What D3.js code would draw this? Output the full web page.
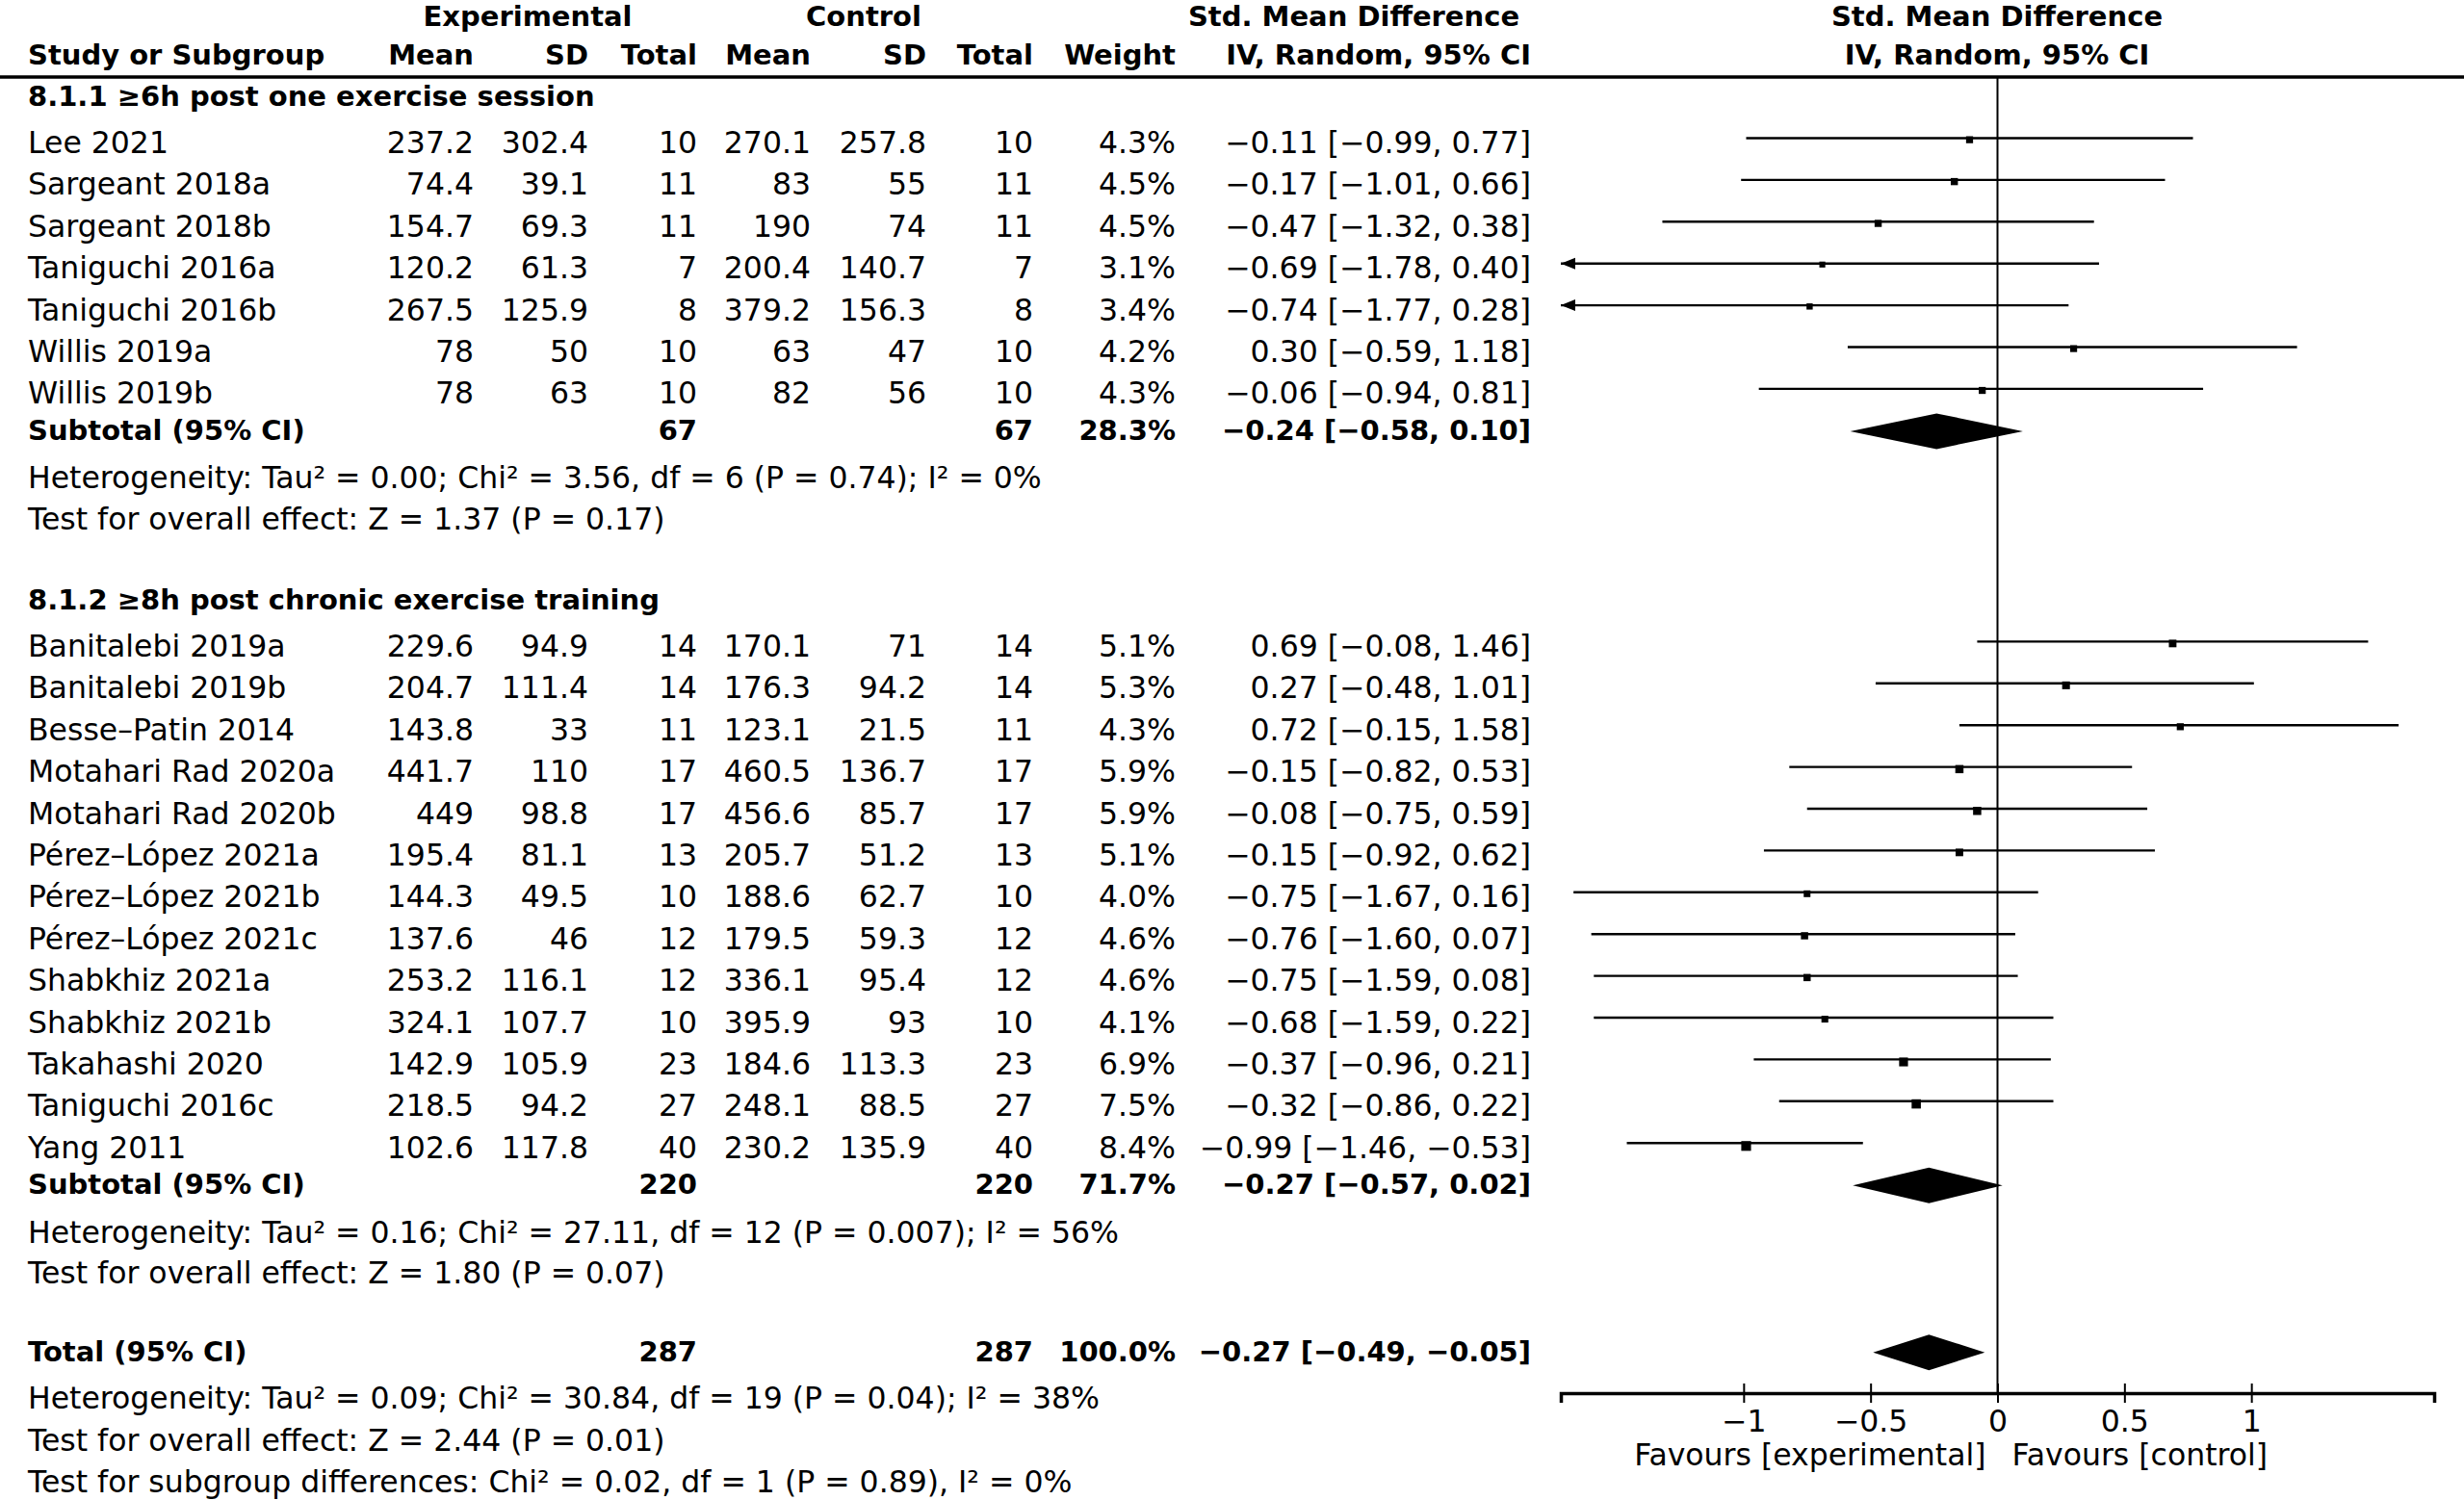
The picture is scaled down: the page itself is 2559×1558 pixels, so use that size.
<!DOCTYPE html>
<html>
<head>
<meta charset="utf-8">
<script src="https://cdn.jsdelivr.net/npm/d3@7"></script>
<style>
  body { margin: 0; background: #fff; }
  text { font-family: "DejaVu Sans", sans-serif; fill: #000; }
</style>
</head>
<body>
<div id="chart"></div>
<script>
// study rows, in the order drawn
const studyNames = [
  "Lee 2021", "Sargeant 2018a", "Sargeant 2018b", "Taniguchi 2016a", "Taniguchi 2016b",
  "Willis 2019a", "Willis 2019b",
  "Banitalebi 2019a", "Banitalebi 2019b", "Besse–Patin 2014", "Motahari Rad 2020a",
  "Motahari Rad 2020b", "Pérez–López 2021a", "Pérez–López 2021b", "Pérez–López 2021c",
  "Shabkhiz 2021a", "Shabkhiz 2021b", "Takahashi 2020", "Taniguchi 2016c", "Yang 2011"
];
const studyGroup = [0, 0, 0, 0, 0, 0, 0, 1, 1, 1, 1, 1, 1, 1, 1, 1, 1, 1, 1, 1];
const expMean = [237.2, 74.4, 154.7, 120.2, 267.5, 78, 78,
  229.6, 204.7, 143.8, 441.7, 449, 195.4, 144.3, 137.6, 253.2, 324.1, 142.9, 218.5, 102.6];
const expSD = [302.4, 39.1, 69.3, 61.3, 125.9, 50, 63,
  94.9, 111.4, 33, 110, 98.8, 81.1, 49.5, 46, 116.1, 107.7, 105.9, 94.2, 117.8];
const expN = [10, 11, 11, 7, 8, 10, 10, 14, 14, 11, 17, 17, 13, 10, 12, 12, 10, 23, 27, 40];
const ctlMean = [270.1, 83, 190, 200.4, 379.2, 63, 82,
  170.1, 176.3, 123.1, 460.5, 456.6, 205.7, 188.6, 179.5, 336.1, 395.9, 184.6, 248.1, 230.2];
const ctlSD = [257.8, 55, 74, 140.7, 156.3, 47, 56,
  71, 94.2, 21.5, 136.7, 85.7, 51.2, 62.7, 59.3, 95.4, 93, 113.3, 88.5, 135.9];
const ctlN = [10, 11, 11, 7, 8, 10, 10, 14, 14, 11, 17, 17, 13, 10, 12, 12, 10, 23, 27, 40];
const weightPct = [4.3, 4.5, 4.5, 3.1, 3.4, 4.2, 4.3,
  5.1, 5.3, 4.3, 5.9, 5.9, 5.1, 4.0, 4.6, 4.6, 4.1, 6.9, 7.5, 8.4];
const smd = [-0.11, -0.17, -0.47, -0.69, -0.74, 0.30, -0.06,
  0.69, 0.27, 0.72, -0.15, -0.08, -0.15, -0.75, -0.76, -0.75, -0.68, -0.37, -0.32, -0.99];
const ciLow = [-0.99, -1.01, -1.32, -1.78, -1.77, -0.59, -0.94,
  -0.08, -0.48, -0.15, -0.82, -0.75, -0.92, -1.67, -1.60, -1.59, -1.59, -0.96, -0.86, -1.46];
const ciHigh = [0.77, 0.66, 0.38, 0.40, 0.28, 1.18, 0.81,
  1.46, 1.01, 1.58, 0.53, 0.59, 0.62, 0.16, 0.07, 0.08, 0.22, 0.21, 0.22, -0.53];

// subgroups
const groupTitles = ["8.1.1 ≥6h post one exercise session", "8.1.2 ≥8h post chronic exercise training"];
const subExpN = [67, 220];
const subCtlN = [67, 220];
const subWeight = [28.3, 71.7];
const subSmd = [-0.24, -0.27];
const subLow = [-0.58, -0.57];
const subHigh = [0.10, 0.02];
const groupHet = [
  "Heterogeneity: Tau² = 0.00; Chi² = 3.56, df = 6 (P = 0.74); I² = 0%",
  "Heterogeneity: Tau² = 0.16; Chi² = 27.11, df = 12 (P = 0.007); I² = 56%"
];
const groupTest = [
  "Test for overall effect: Z = 1.37 (P = 0.17)",
  "Test for overall effect: Z = 1.80 (P = 0.07)"
];

// overall
const totalExpN = 287;
const totalCtlN = 287;
const totalWeight = 100.0;
const totalSmd = -0.27;
const totalLow = -0.49;
const totalHigh = -0.05;
const totalNotes = [
  "Heterogeneity: Tau² = 0.09; Chi² = 30.84, df = 19 (P = 0.04); I² = 38%",
  "Test for overall effect: Z = 2.44 (P = 0.01)",
  "Test for subgroup differences: Chi² = 0.02, df = 1 (P = 0.89), I² = 0%"
];

// axis
const xDomain = [-1.72, 1.72];
const tickValues = [-1, -0.5, 0, 0.5, 1];
const favourLabels = ["Favours [experimental]", "Favours [control]"];

const w = 2559;
const h = 1558;
const fsBold = 29;
const fsReg = 31.5;
const rowStep = 43.4;

const f2 = d3.format(".2f");
const f1 = d3.format(".1f");
const ciText = (m, lo, hi) => `${f2(m)} [${f2(lo)}, ${f2(hi)}]`;

const svg = d3
  .select("#chart")
  .append("svg")
  .attr("width", w)
  .attr("height", h)
  .style("display", "block");

svg.append("rect").attr("width", w).attr("height", h).attr("fill", "#fff");

// build the row layout (baselines)
const rows = [];
let y = 110;
groupTitles.forEach((title, g) => {
  if (g > 0) y += 83;
  rows.push({ kind: "group", y, g });
  y += 49;
  studyNames.forEach((name, i) => {
    if (studyGroup[i] !== g) return;
    if (rows[rows.length - 1].kind === "study") y += rowStep;
    rows.push({ kind: "study", y, i });
  });
  y += 37.5;
  rows.push({ kind: "subtotal", y, g });
  y += 50.5;
  rows.push({ kind: "note", y, text: groupHet[g] });
  y += 42.5;
  rows.push({ kind: "note", y, text: groupTest[g] });
});
y += 80.5;
rows.push({ kind: "total", y });
y += 49.5;
totalNotes.forEach((t, k) => {
  if (k > 0) y += 43.5;
  rows.push({ kind: "note", y, text: t });
});

// table columns (right aligned except name)
const cols = [
  { x: 492, study: (i) => expMean[i], sub: () => "", total: () => "" },
  { x: 611, study: (i) => expSD[i], sub: () => "", total: () => "" },
  { x: 724, study: (i) => expN[i], sub: (g) => subExpN[g], total: () => totalExpN },
  { x: 842, study: (i) => ctlMean[i], sub: () => "", total: () => "" },
  { x: 962, study: (i) => ctlSD[i], sub: () => "", total: () => "" },
  { x: 1073, study: (i) => ctlN[i], sub: (g) => subCtlN[g], total: () => totalCtlN },
  { x: 1221, study: (i) => f1(weightPct[i]) + "%", sub: (g) => f1(subWeight[g]) + "%", total: () => f1(totalWeight) + "%" },
  { x: 1590, study: (i) => ciText(smd[i], ciLow[i], ciHigh[i]),
    sub: (g) => ciText(subSmd[g], subLow[g], subHigh[g]),
    total: () => ciText(totalSmd, totalLow, totalHigh) }
];

// headers
const head = svg.append("g").attr("font-size", fsBold).attr("font-weight", "bold");
[["Experimental", 548], ["Control", 897], ["Std. Mean Difference", 1406], ["Std. Mean Difference", 2074]]
  .forEach(([t, x]) => head.append("text").attr("x", x).attr("y", 27).attr("text-anchor", "middle").text(t));
head.append("text").attr("x", 29).attr("y", 67).text("Study or Subgroup");
[["Mean", 492], ["SD", 611], ["Total", 724], ["Mean", 842], ["SD", 962], ["Total", 1073], ["Weight", 1221], ["IV, Random, 95% CI", 1590]]
  .forEach(([t, x]) => head.append("text").attr("x", x).attr("y", 67).attr("text-anchor", "end").text(t));
head.append("text").attr("x", 2074).attr("y", 67).attr("text-anchor", "middle").text("IV, Random, 95% CI");

svg.append("line")
  .attr("x1", 0).attr("x2", w).attr("y1", 80).attr("y2", 80)
  .attr("stroke", "#000").attr("stroke-width", 3.5);

// table body
const body = svg.append("g");
const isPlain = (d) => d.kind === "study" || d.kind === "note";

body.selectAll("text.label")
  .data(rows)
  .enter()
  .append("text")
  .attr("class", "label")
  .attr("x", 29)
  .attr("y", (d) => d.y)
  .attr("font-weight", (d) => isPlain(d) ? "normal" : "bold")
  .attr("font-size", (d) => isPlain(d) ? fsReg : fsBold)
  .text((d) => {
    if (d.kind === "group") return groupTitles[d.g];
    if (d.kind === "study") return studyNames[d.i];
    if (d.kind === "subtotal") return "Subtotal (95% CI)";
    if (d.kind === "total") return "Total (95% CI)";
    return d.text;
  });

const dataRows = rows.filter((d) => d.kind === "study" || d.kind === "subtotal" || d.kind === "total");
cols.forEach((c) => {
  body.append("g")
    .selectAll("text")
    .data(dataRows)
    .enter()
    .append("text")
    .attr("x", c.x)
    .attr("y", (d) => d.y)
    .attr("text-anchor", "end")
    .attr("font-weight", (d) => isPlain(d) ? "normal" : "bold")
    .attr("font-size", (d) => isPlain(d) ? fsReg : fsBold)
    .text((d) => d.kind === "study" ? c.study(d.i) : d.kind === "subtotal" ? c.sub(d.g) : c.total());
});

// forest plot
const x = d3.scaleLinear().domain(xDomain).range([1621, 2528]);
const axisY = 1447;
const plot = svg.append("g");

plot.append("line")
  .attr("x1", x(0)).attr("x2", x(0))
  .attr("y1", 80).attr("y2", axisY)
  .attr("stroke", "#000").attr("stroke-width", 2);

const studyRows = rows.filter((d) => d.kind === "study");
plot.selectAll("line.ci")
  .data(studyRows)
  .enter()
  .append("line")
  .attr("class", "ci")
  .attr("x1", (d) => x(Math.max(ciLow[d.i], xDomain[0])))
  .attr("x2", (d) => x(Math.min(ciHigh[d.i], xDomain[1])))
  .attr("y1", (d) => d.y - 15.5)
  .attr("y2", (d) => d.y - 15.5)
  .attr("stroke", "#000")
  .attr("stroke-width", 2.4);

// arrows where the interval runs off the scale
plot.selectAll("path.arrow")
  .data(studyRows.filter((d) => ciLow[d.i] < xDomain[0]))
  .enter()
  .append("path")
  .attr("class", "arrow")
  .attr("d", (d) => {
    const x0 = x(xDomain[0]);
    const yy = d.y - 15.5;
    return `M${x0},${yy} L${x0 + 15},${yy - 6} L${x0 + 15},${yy + 6} Z`;
  })
  .attr("fill", "#000");

plot.selectAll("rect.est")
  .data(studyRows)
  .enter()
  .append("rect")
  .attr("class", "est")
  .attr("width", (d) => 3.5 * Math.sqrt(weightPct[d.i]))
  .attr("height", (d) => 3.5 * Math.sqrt(weightPct[d.i]))
  .attr("x", (d) => x(smd[d.i]) - 1.75 * Math.sqrt(weightPct[d.i]))
  .attr("y", (d) => d.y - 17.5)
  .attr("fill", "#000");

// diamonds
const diamonds = rows
  .filter((d) => d.kind === "subtotal" || d.kind === "total")
  .map((d) => d.kind === "subtotal"
    ? { y: d.y - 9, m: subSmd[d.g], lo: subLow[d.g], hi: subHigh[d.g] }
    : { y: d.y - 9, m: totalSmd, lo: totalLow, hi: totalHigh });

plot.selectAll("path.diamond")
  .data(diamonds)
  .enter()
  .append("path")
  .attr("class", "diamond")
  .attr("d", (d) => `M${x(d.lo)},${d.y} L${x(d.m)},${d.y - 18.5} L${x(d.hi)},${d.y} L${x(d.m)},${d.y + 18.5} Z`)
  .attr("fill", "#000");

// axis
const axis = plot.append("g")
  .attr("transform", `translate(0,${axisY})`)
  .call(d3.axisBottom(x).tickValues(tickValues).tickFormat(d3.format("")).tickSizeOuter(0).tickSize(10));

axis.attr("font-family", null).attr("font-size", fsReg);
axis.select(".domain").attr("stroke-width", 3.5);
axis.selectAll(".tick line").attr("y1", -10).attr("y2", 10).attr("stroke-width", 2);
axis.selectAll(".tick text").attr("y", 40).attr("dy", null).attr("fill", "#000");

plot.append("text")
  .attr("x", x(0) - 12).attr("y", 1522)
  .attr("text-anchor", "end").attr("font-size", fsReg)
  .text(favourLabels[0]);
plot.append("text")
  .attr("x", x(0) + 15).attr("y", 1522)
  .attr("font-size", fsReg)
  .text(favourLabels[1]);
</script>
</body>
</html>
